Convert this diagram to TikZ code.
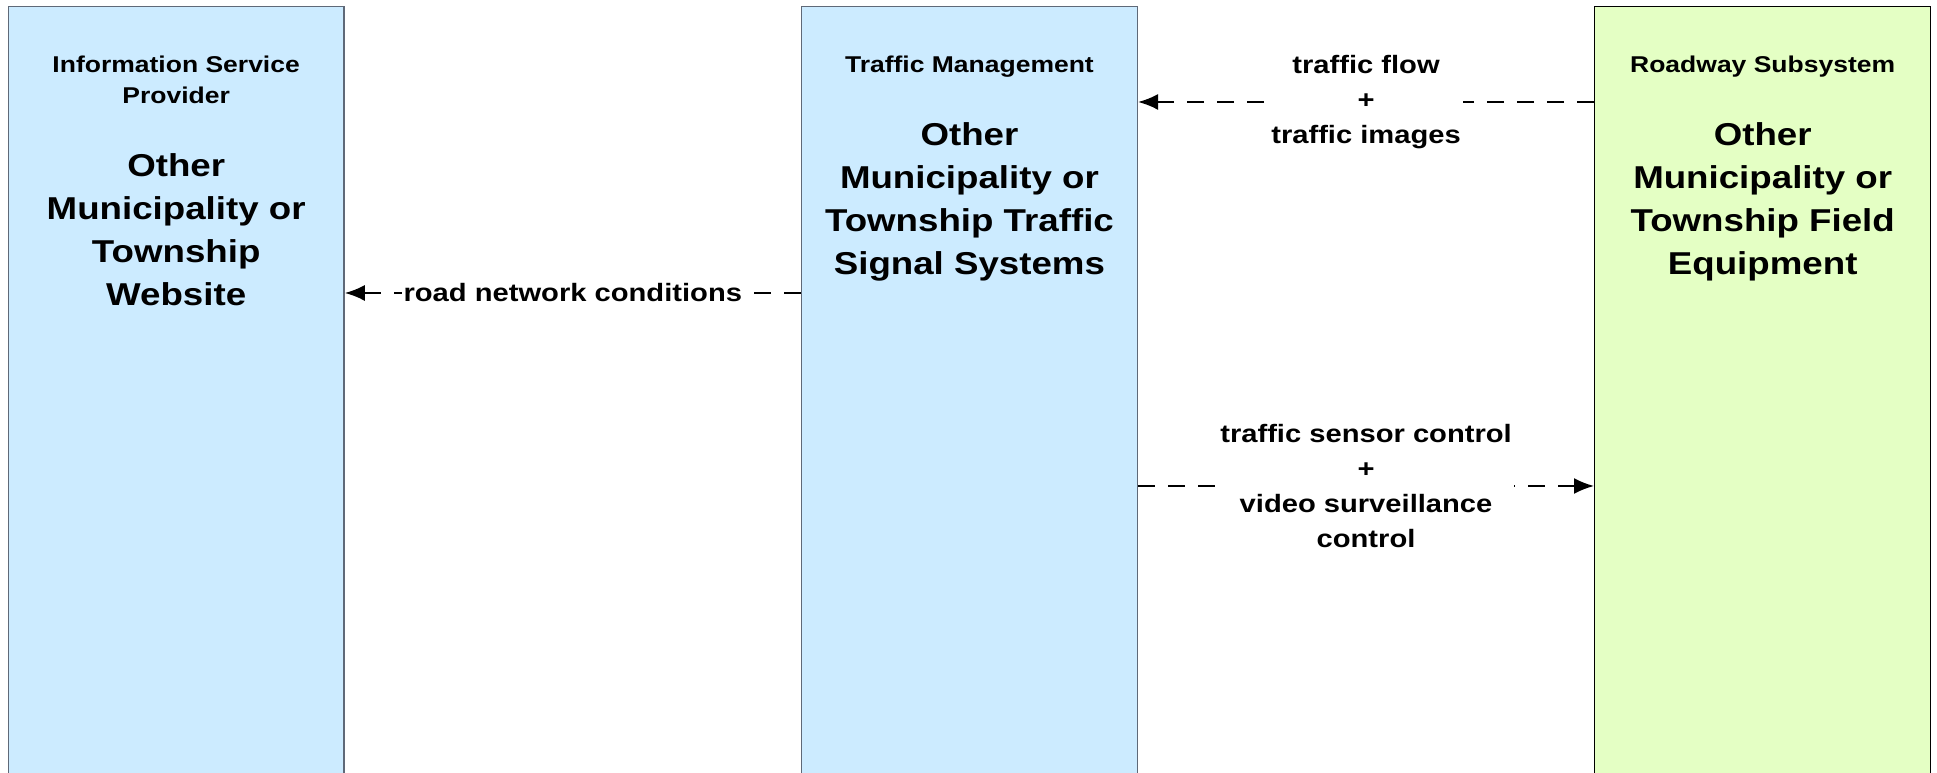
\documentclass[tikz,border=0pt]{standalone}
\usepackage{fontspec}
\setmainfont{Liberation Sans}[FakeStretch=1.16]
\usetikzlibrary{positioning,arrows.meta}
\definecolor{sysblue}{RGB}{204,235,255}
\definecolor{sysgreen}{RGB}{228,255,196}
\definecolor{sysedge}{RGB}{95,105,120}

\begin{document}
\begin{tikzpicture}[x=0.02cm, y=0.02cm,
	sysbox/.style={draw=sysedge, line width=0.8pt, fill=sysblue, minimum width=6.72cm, minimum height=16.4cm, inner sep=0pt},
	syshead/.style={font=\bfseries\fontsize{13pt}{17.6pt}\selectfont, align=center, inner sep=0pt, text depth=0pt},
	sysname/.style={font=\bfseries\fontsize{18pt}{24.5pt}\selectfont, align=center, inner sep=0pt},
	flow/.style={line width=1.1pt, dash pattern=on 0.34cm off 0.26cm, -{Latex[length=0.4cm, width=0.32cm]}},
	flowlbl/.style={font=\bfseries\fontsize{14.3pt}{19.9pt}\selectfont, align=center, fill=white, inner sep=1pt}]
	\useasboundingbox (0,0) rectangle (1937,773);
	\node[sysbox, anchor=north west] (isp) at (7.5,767) {};
	\node[sysbox, right=9.12cm of isp] (tm) {};
	\node[sysbox, fill=sysgreen, draw=black, right=9.12cm of tm] (rs) {};
	\node[syshead, below=1.0cm of isp.north] (isphead) {Information Service\\Provider};
	\node[sysname, below=0.98cm of isphead] (ispname) {Other\\Municipality or\\Township\\Website};
	\node[syshead, below=1.0cm of tm.north] (tmhead) {Traffic Management};
	\node[sysname, below=0.98cm of tmhead] (tmname) {Other\\Municipality or\\Township Traffic\\Signal Systems};
	\node[syshead, below=1.0cm of rs.north] (rshead) {Roadway Subsystem};
	\node[sysname, below=0.98cm of rshead] (rsname) {Other\\Municipality or\\Township Field\\Equipment};
	\coordinate (rncy) at (0,480);
	\coordinate (tfy) at (0,671);
	\coordinate (tscy) at (0,287);
	\draw[flow] (tm.west |- rncy) -- node[flowlbl] {road network conditions} (isp.east |- rncy);
	\draw[flow] (rs.west |- tfy) -- node[flowlbl] {traffic flow\\+\\traffic images} (tm.east |- tfy);
	\draw[flow] (tm.east |- tscy) -- node[flowlbl] {traffic sensor control\\+\\video surveillance\\control} (rs.west |- tscy);
\end{tikzpicture}
\end{document}
